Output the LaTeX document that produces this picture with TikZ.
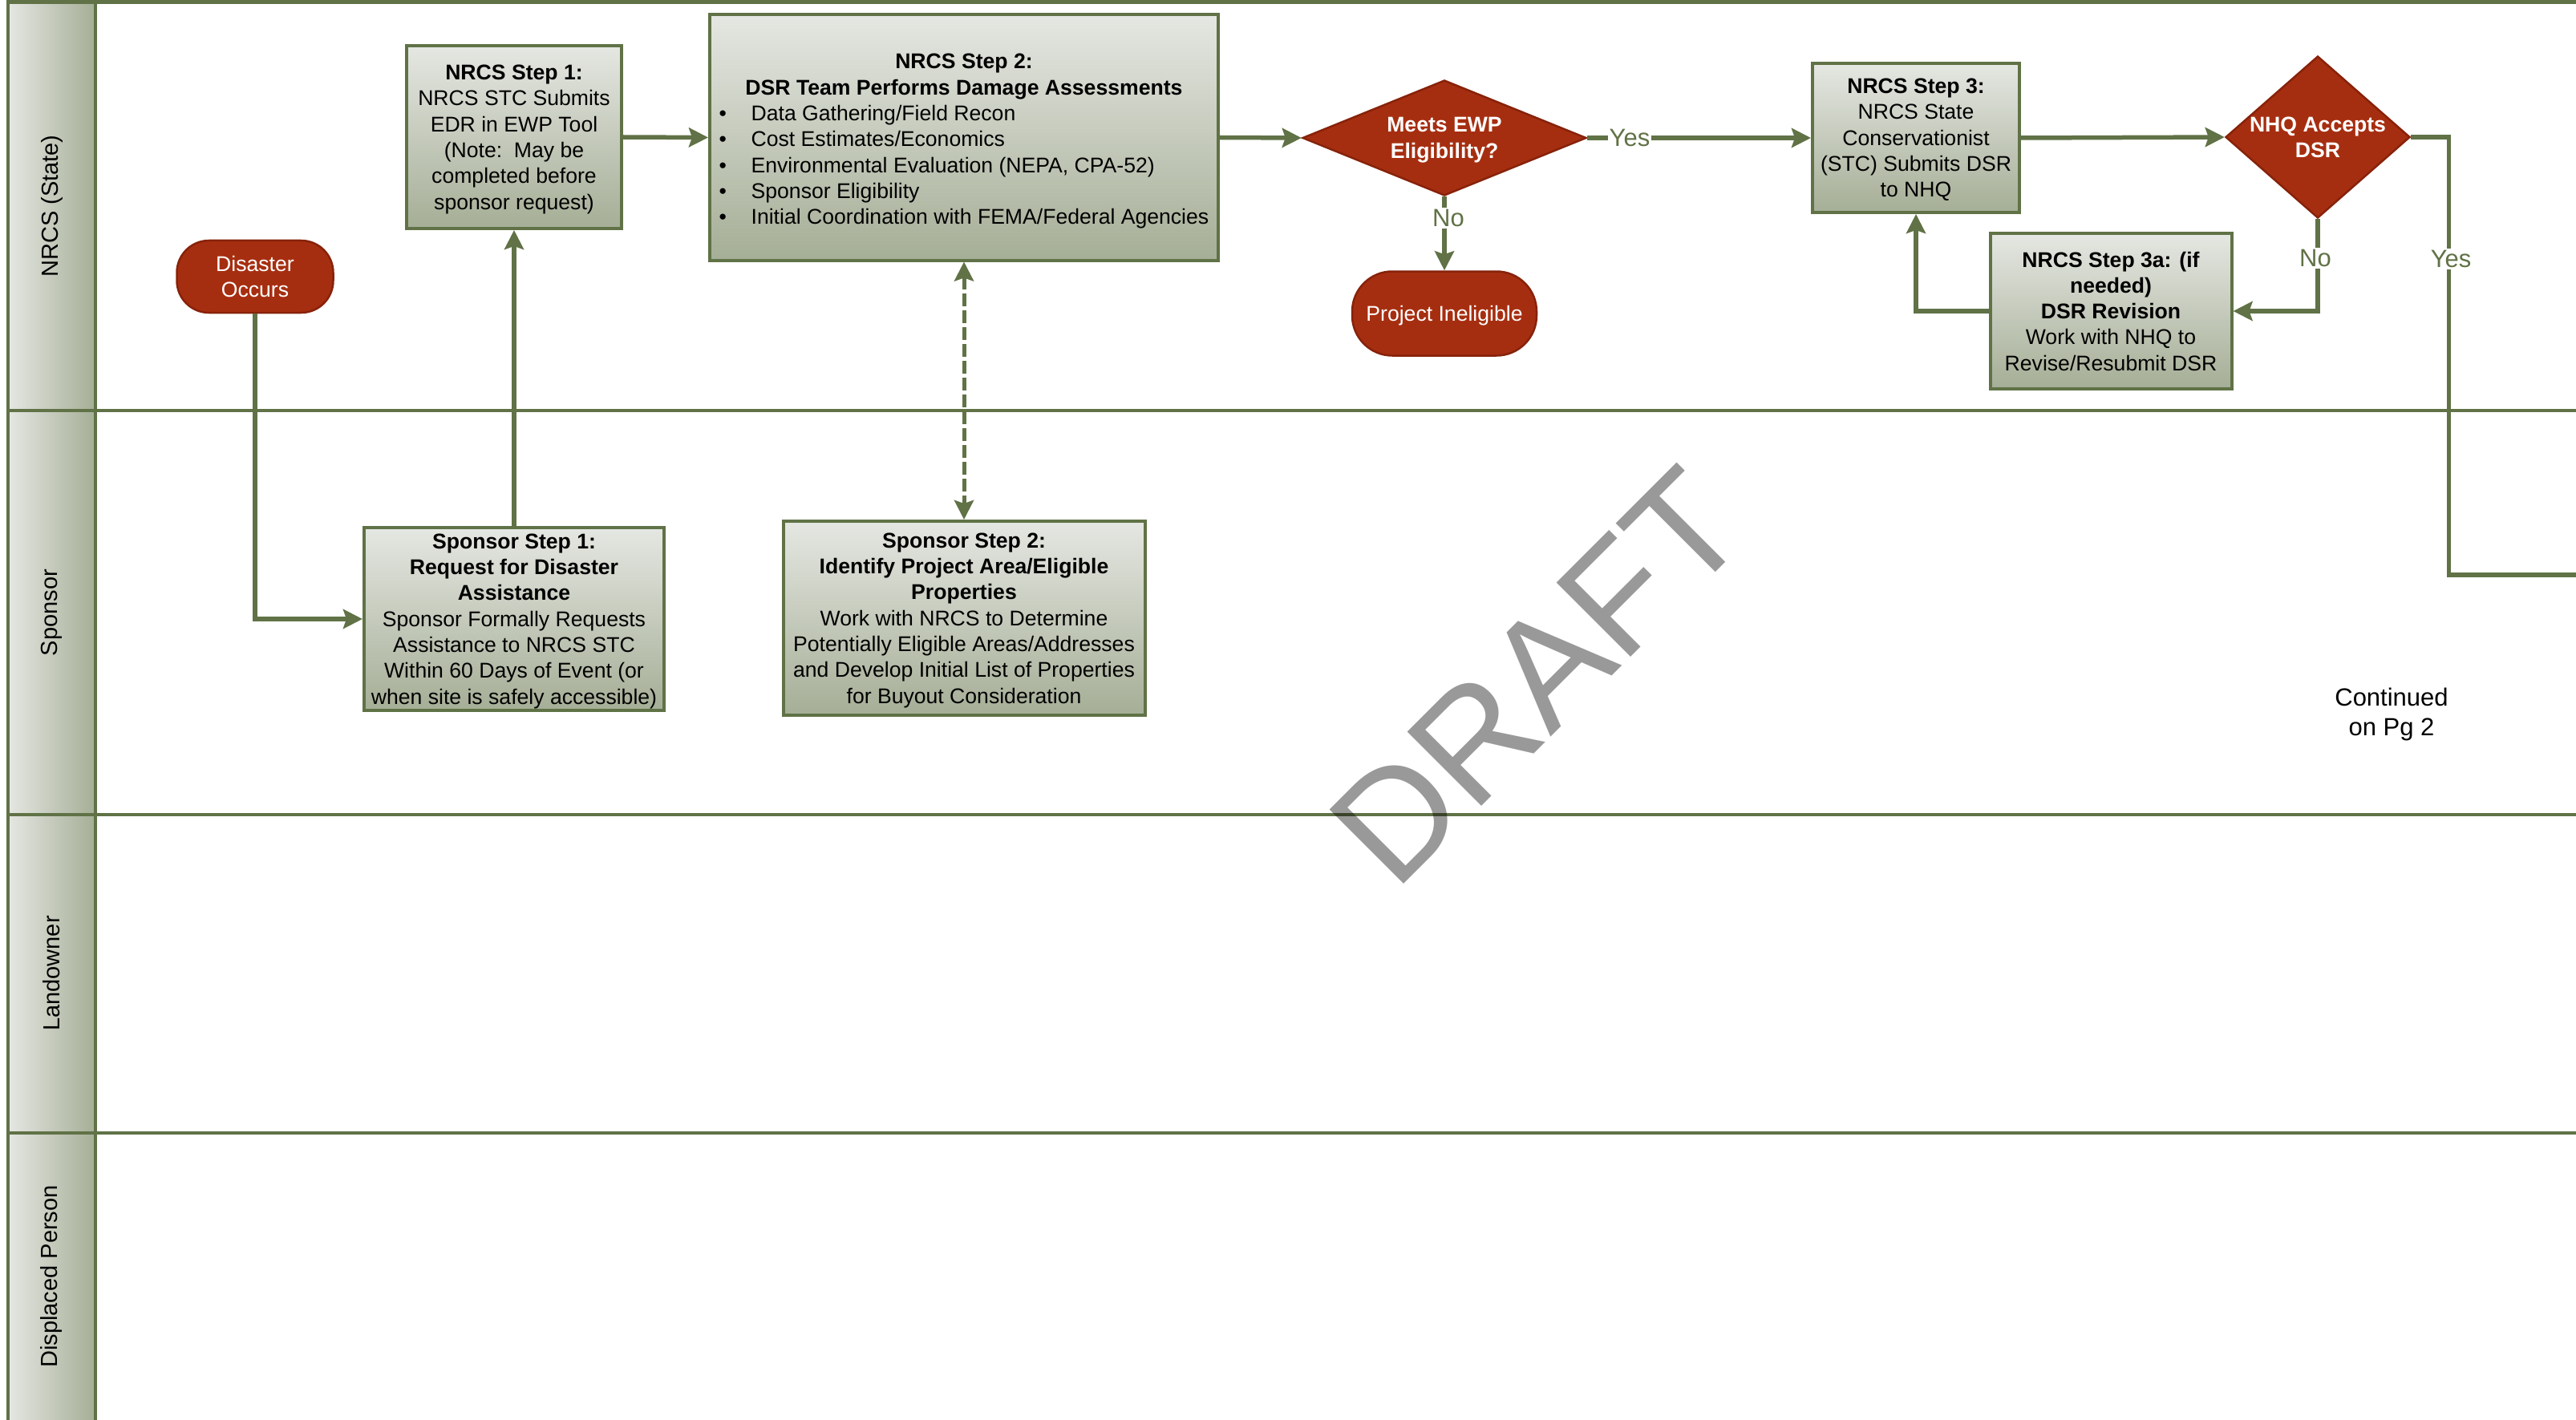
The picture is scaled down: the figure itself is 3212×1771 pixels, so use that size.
\documentclass[tikz,border=0pt]{standalone}
\usepackage{fontspec}
\setmainfont{Liberation Sans}
\usetikzlibrary{shapes.geometric,arrows.meta,calc}
\definecolor{olive}{RGB}{96,114,70}
\definecolor{boxtop}{RGB}{229,231,226}
\definecolor{boxbot}{RGB}{165,174,150}
\definecolor{rust}{RGB}{166,46,16}
\definecolor{rustdark}{RGB}{135,34,10}
\newcommand\stepfont{\fontsize{26.6pt}{32.3pt}\selectfont}
\newcommand\lblfont{\fontsize{31pt}{37pt}\selectfont}
\newcommand\lanefont{\fontsize{29pt}{35pt}\selectfont}
\begin{document}
\begin{tikzpicture}[x=1pt,y=-1pt,
  stepbox/.style={rectangle, draw=olive, line width=4pt, top color=boxtop, bottom color=boxbot,
    inner sep=0pt, align=center, font=\stepfont, text depth=0pt},
  decbox/.style={diamond, draw=rustdark, fill=rust, line width=2.5pt, inner sep=0pt,
    text=white, align=center, font=\stepfont\bfseries, text depth=0pt},
  termbox/.style={rectangle, draw=rustdark, fill=rust, line width=2.5pt, inner sep=0pt,
    text=white, align=center, font=\stepfont, text depth=0pt},
  conn/.style={draw=olive, line width=5.5pt},
  arr/.style={conn, -{Stealth[length=24pt,width=24pt,inset=4pt]}},
  lbl/.style={fill=white, text=olive, font=\lblfont, inner sep=2pt},
  lanelbl/.style={rotate=90, font=\lanefont, text=black},
  laneline/.style={draw=olive, line width=4.5pt}
]
\useasboundingbox (0,0) rectangle (3212,1771);
\fill[white] (0,0) rectangle (3212,1771);

% swimlane frame
\shade[left color=boxtop, right color=boxbot] (10,3) rectangle (119,1771);
\draw[laneline] (10,1) -- (10,1771);
\draw[laneline] (119,3) -- (119,1771);
\draw[draw=olive, line width=5pt] (8,3) -- (3212,3);
\draw[laneline] (10,512) -- (3212,512);
\draw[laneline] (10,1016) -- (3212,1016);
\draw[laneline] (10,1413) -- (3212,1413);

\node[lanelbl] (lane1) at (64.5,257) {NRCS (State)};
\node[lanelbl] (lane2) at (64.5,764) {Sponsor};
\node[lanelbl] (lane3) at (64.5,1214) {Landowner};
\node[lanelbl] (lane4) at (64.5,1592) {Displaced Person};

% nodes
\node[termbox, minimum width=195pt, minimum height=90pt, rounded corners=40pt] (dis) at (318,345)
  {Disaster\\Occurs};
\node[stepbox, minimum width=268pt, minimum height=228pt] (s1) at (641,171)
  {\textbf{NRCS Step 1:}\\NRCS STC Submits\\EDR in EWP Tool\\(Note:\ \ May be\\completed before\\sponsor request)};
\node[stepbox, minimum width=634pt, minimum height=306pt] (s2) at (1202,171.5)
  {\begin{tabular}[b]{@{}p{40pt}@{}l@{}}
   \multicolumn{2}{c}{\bfseries NRCS Step 2:}\\
   \multicolumn{2}{c}{\bfseries DSR Team Performs Damage Assessments}\\
   \textbullet & Data Gathering/Field Recon\\
   \textbullet & Cost Estimates/Economics\\
   \textbullet & Environmental Evaluation (NEPA, CPA-52)\\
   \textbullet & Sponsor Eligibility\\
   \textbullet & Initial Coordination with FEMA/Federal Agencies
   \end{tabular}};
\node[decbox, minimum width=354pt, minimum height=144pt, aspect=2.45] (ewp) at (1801,172)
  {\makebox[0pt]{Meets EWP}\\\makebox[0pt]{Eligibility?}};
\node[termbox, minimum width=230pt, minimum height=105pt, rounded corners=50pt] (pi) at (1801,391)
  {Project Ineligible};
\node[stepbox, minimum width=258pt, minimum height=186pt] (s3) at (2389,172)
  {\textbf{NRCS Step 3:}\\NRCS State\\Conservationist\\(STC) Submits DSR\\to NHQ};
\node[decbox, minimum width=230pt, minimum height=202pt, aspect=1.14] (nhq) at (2890,171)
  {\makebox[0pt]{NHQ Accepts}\\\makebox[0pt]{DSR}};
\node[stepbox, minimum width=301pt, minimum height=194pt] (s3a) at (2632,388)
  {\textbf{NRCS Step 3a: (if}\\\textbf{needed)}\\\textbf{DSR Revision}\\Work with NHQ to\\Revise/Resubmit DSR};
\node[stepbox, minimum width=374pt, minimum height=228pt] (sp1) at (641,772)
  {\textbf{Sponsor Step 1:}\\\textbf{Request for Disaster}\\\textbf{Assistance}\\Sponsor Formally Requests\\Assistance to NRCS STC\\Within 60 Days of Event (or\\when site is safely accessible)};
\node[stepbox, minimum width=451pt, minimum height=242pt] (sp2) at (1202,771)
  {\textbf{Sponsor Step 2:}\\\textbf{Identify Project Area/Eligible}\\\textbf{Properties}\\Work with NRCS to Determine\\Potentially Eligible Areas/Addresses\\and Develop Initial List of Properties\\for Buyout Consideration};

\node[font=\lblfont, align=center, text=black] (contd) at (2982,891) {Continued\\on Pg 2};

% connectors
\draw[arr] (s1.east) -- (s2.west);
\draw[arr] (s2.east) -- (ewp.west);
\draw[arr] (ewp.south) -- (pi.north);
\node[lbl] (no1) at (1806,272) {No};
\draw[arr] (ewp.east) -- (s3.west);
\node[lbl] (yes1) at (2032,172) {Yes};
\draw[arr] (s3.east) -- (nhq.west);
\draw[arr] (nhq.south) |- (s3a.east);
\node[lbl] (no2) at (2887,322) {No};
\draw[arr] (s3a.west) -| (s3.south);
\coordinate (cont) at (3214,717);
\draw[conn] (nhq.east) -- ++(47,0) |- (cont);
\node[lbl] (yes2) at (3056,323) {Yes};
\draw[arr] (dis.south) |- (sp1.west);
\draw[arr] (sp1.north) -- (s1.south);
\draw[conn, line width=5pt, dash pattern=on 16pt off 5pt,
  {Stealth[length=24pt,width=24pt,inset=4pt]}-{Stealth[length=24pt,width=24pt,inset=4pt]}]
  (s2.south) -- (sp2.north);

% watermark
\node[rotate=45, anchor=base, text=black, opacity=0.4, inner sep=0pt,
  font=\fontsize{190pt}{200pt}\selectfont] (draft) at (1963,890) {DRAFT};
\end{tikzpicture}
\end{document}
